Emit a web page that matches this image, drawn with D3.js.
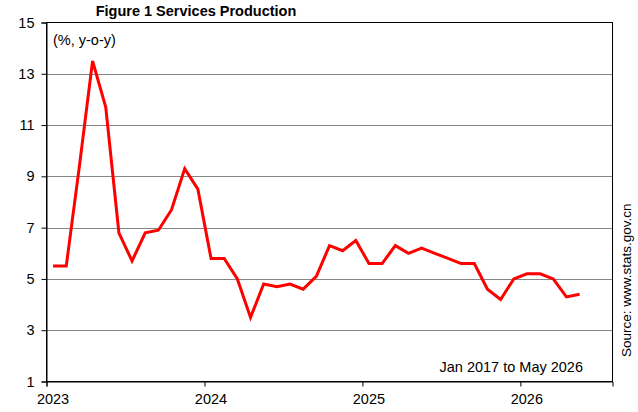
<!DOCTYPE html>
<html>
<head>
<meta charset="utf-8">
<script src="https://cdn.jsdelivr.net/npm/d3@7"></script>
<style>
  body { margin: 0; background: #fff; }
  text { font-family: "Liberation Sans", Arial, sans-serif; }
</style>
</head>
<body>
<svg id="chart" width="638" height="412"></svg>
<script>
// monthly y-o-y growth, Jan 2023 .. May 2026
var values = [
    5.5, 5.5, 9.4, 13.5, 11.7, 6.8, 5.7, 6.8, 6.9, 7.7, 9.3, 8.5,
    5.8, 5.8, 5.0, 3.5, 4.8, 4.7, 4.8, 4.6, 5.1, 6.3, 6.1, 6.5,
    5.6, 5.6, 6.3, 6.0, 6.2, 6.0, 5.8, 5.6, 5.6, 4.6, 4.2, 5.0,
    5.2, 5.2, 5.0, 4.3, 4.4
]
var yearLabels = ["2023", "2024", "2025", "2026"]
var yTicks = [1, 3, 5, 7, 9, 11, 13, 15]
var monthsShown = 43 // Jan 2023 through Jul 2026

var svg = d3.select("#chart")
var plotLeft = 46.5, plotRight = 612.5, plotTop = 22.5, plotBottom = 381.5

var x = d3.scaleLinear().domain([0, monthsShown]).range([plotLeft, plotRight])
var y = d3.scaleLinear().domain([1, 15]).range([plotBottom, plotTop])

// gridlines
svg.append('g')
    .selectAll('line')
    .data(yTicks.slice(1, -1))
    .enter().append('line')
    .attr('x1', plotLeft).attr('x2', plotRight)
    .attr('y1', function(d) { return Math.round(y(d)) + 0.5 })
    .attr('y2', function(d) { return Math.round(y(d)) + 0.5 })
    .attr('stroke', '#868686')
    .attr('stroke-width', 1)

// frame
svg.append('rect')
    .attr('x', plotLeft).attr('y', plotTop)
    .attr('width', plotRight - plotLeft).attr('height', plotBottom - plotTop)
    .attr('fill', 'none')
    .attr('stroke', '#000')
    .attr('stroke-width', 1)

var yAxis = d3.axisLeft(y).tickValues(yTicks).tickSize(5).tickPadding(7)
var yg = svg.append('g').attr('transform', 'translate(' + plotLeft + ',0)').call(yAxis)
yg.selectAll('text').attr('font-size', 14.5).attr('fill', '#000').attr('font-family', '"Liberation Sans", Arial, sans-serif')
yg.selectAll('path,line').attr('stroke', '#000')

var xAxis = d3.axisBottom(x)
    .tickValues(yearLabels.map(function(d, i) { return i * 12 }))
    .tickFormat(function(d, i) { return yearLabels[i] })
    .tickSize(5).tickPadding(7)
var xg = svg.append('g').attr('transform', 'translate(0,' + plotBottom + ')').call(xAxis)
xg.selectAll('text')
    .attr('font-size', 14.5).attr('fill', '#000')
    .attr('font-family', '"Liberation Sans", Arial, sans-serif')
    .attr('dx', 6)
xg.selectAll('path,line').attr('stroke', '#000')

// series line
var line = d3.line()
    .x(function(d, i) { return x(i + 0.5) })
    .y(function(d) { return y(d) })

svg.append('path')
    .datum(values)
    .attr('d', line)
    .attr('fill', 'none')
    .attr('stroke', '#ff0000')
    .attr('stroke-width', 3)
    .attr('stroke-linejoin', 'miter')

// texts
svg.append('text')
    .attr('x', 196).attr('y', 16)
    .attr('text-anchor', 'middle')
    .attr('font-size', 14.5)
    .attr('font-weight', 'bold')
    .text('Figure 1 Services Production')

svg.append('text')
    .attr('x', 53).attr('y', 45)
    .attr('font-size', 14.5)
    .text('(%, y-o-y)')

svg.append('text')
    .attr('x', 583).attr('y', 372)
    .attr('text-anchor', 'end')
    .attr('font-size', 14.5)
    .text('Jan 2017 to May 2026')

svg.append('text')
    .attr('transform', 'translate(631,357) rotate(-90)')
    .attr('font-size', 13.5)
    .text('Source: www.stats.gov.cn')
</script>
</body>
</html>
